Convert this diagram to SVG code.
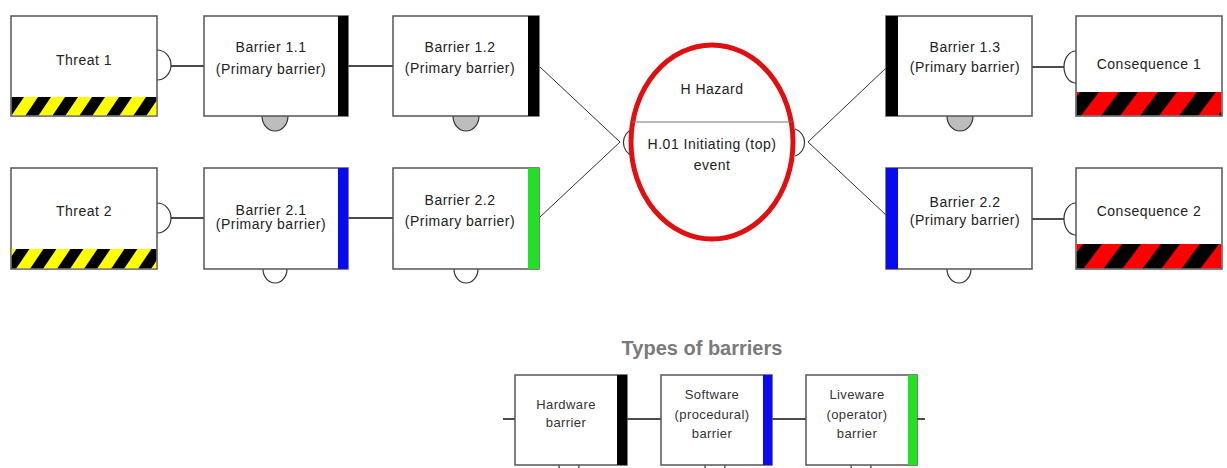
<svg xmlns="http://www.w3.org/2000/svg" width="1227" height="468" viewBox="0 0 1227 468">
<defs>
<style>
.box{fill:#fff;stroke:#555;stroke-width:1.5}
.t{font-family:"Liberation Sans",Arial,sans-serif;font-size:14px;letter-spacing:0.5px;fill:#222;text-anchor:middle}
.ts{font-family:"Liberation Sans",Arial,sans-serif;font-size:13px;letter-spacing:0.4px;fill:#333;text-anchor:middle}
.title{font-family:"Liberation Sans",Arial,sans-serif;font-size:20px;font-weight:bold;fill:#7a7a7a;text-anchor:middle}
.ln{stroke:#111;stroke-width:1.5;fill:none}
.dg{stroke:#333;stroke-width:1;fill:none}
.cap{fill:#fff;stroke:#333;stroke-width:1.2}
.capg{fill:#bdbdbd;stroke:#333;stroke-width:1.2}
</style>
<pattern id="hazY" patternUnits="userSpaceOnUse" x="11" y="97" width="27" height="40">
<rect width="27" height="40" fill="#ffff00"/>
<polygon points="0,0 13,0 -14,40 -27,40" fill="#000"/>
<polygon points="27,0 40,0 13,40 0,40" fill="#000"/>
</pattern>
<pattern id="hazR" patternUnits="userSpaceOnUse" x="1080" y="92" width="39" height="52">
<rect width="39" height="52" fill="#ff0000"/>
<polygon points="0,0 19,0 -20,52 -39,52" fill="#000"/>
<polygon points="39,0 58,0 19,52 0,52" fill="#000"/>
</pattern>
</defs>
<rect width="1227" height="468" fill="#fff"/>

<g id="connectors">
<line class="ln" x1="171" y1="66" x2="204" y2="66"/>
<line class="ln" x1="348" y1="66" x2="393" y2="66"/>
<line class="ln" x1="171" y1="218" x2="204" y2="218"/>
<line class="ln" x1="348" y1="218" x2="393" y2="218"/>
<line class="ln" x1="1032" y1="67" x2="1065" y2="67"/>
<line class="ln" x1="1032" y1="219" x2="1065" y2="219"/>
<line class="dg" x1="540" y1="67" x2="620" y2="142"/>
<line class="dg" x1="540" y1="217" x2="620" y2="142"/>
<line class="dg" x1="808" y1="142" x2="886" y2="68"/>
<line class="dg" x1="808" y1="142" x2="886" y2="215"/>
<line class="ln" x1="503" y1="419" x2="515" y2="419" stroke-width="1"/>
<line class="ln" x1="627" y1="419" x2="661" y2="419" stroke-width="1"/>
<line class="ln" x1="772" y1="419" x2="806" y2="419" stroke-width="1"/>
<line class="ln" x1="917" y1="419" x2="925" y2="419" stroke-width="1"/>
</g>

<g id="threat1">
<path class="cap" d="M157 50 A14 15 0 0 1 157 80"/>
<rect class="box" x="11" y="16" width="146" height="100"/>
<rect x="11.75" y="97" width="144.5" height="18.25" fill="url(#hazY)"/>
<text class="t" x="84" y="65">Threat 1</text>
</g>
<g id="threat2">
<path class="cap" d="M157 203 A14 15 0 0 1 157 233"/>
<rect class="box" x="11" y="168" width="146" height="101"/>
<rect x="11.75" y="249" width="144.5" height="19.25" fill="url(#hazY)"/>
<text class="t" x="84" y="216">Threat 2</text>
</g>

<g id="barrier11">
<path class="capg" d="M262 116 A13 15 0 0 0 288 116"/>
<rect class="box" x="204" y="16" width="144" height="100"/>
<rect x="338" y="16" width="10" height="100" fill="#000"/>
<text class="t" x="271" y="52">Barrier 1.1</text>
<text class="t" x="271" y="74">(Primary barrier)</text>
</g>
<g id="barrier12">
<path class="capg" d="M453 116 A13 15 0 0 0 479 116"/>
<rect class="box" x="393" y="16" width="146" height="100"/>
<rect x="528" y="16" width="11" height="100" fill="#000"/>
<text class="t" x="460" y="52">Barrier 1.2</text>
<text class="t" x="460" y="73">(Primary barrier)</text>
</g>
<g id="barrier21">
<path class="cap" d="M263 269 A12 14 0 0 0 287 269"/>
<rect class="box" x="204" y="168" width="144" height="101"/>
<rect x="338" y="168" width="10" height="101" fill="#0a0af0"/>
<text class="t" x="271" y="215">Barrier 2.1</text>
<text class="t" x="271" y="229">(Primary barrier)</text>
</g>
<g id="barrier22a">
<path class="cap" d="M454 269 A12 14 0 0 0 478 269"/>
<rect class="box" x="393" y="168" width="146" height="101"/>
<rect x="528" y="168" width="11" height="101" fill="#22e022"/>
<text class="t" x="460" y="205">Barrier 2.2</text>
<text class="t" x="460" y="226">(Primary barrier)</text>
</g>

<g id="hazard">
<path class="cap" d="M633 129 A13 14 0 0 0 633 156"/>
<path class="cap" d="M795 129 A13 14 0 0 1 795 156"/>
<ellipse cx="712" cy="142" rx="81" ry="97" fill="#fff" stroke="#e01010" stroke-width="5"/>
<line x1="632" y1="122" x2="792" y2="122" stroke="#777" stroke-width="1.2"/>
<text class="t" x="712" y="94">H  Hazard</text>
<text class="t" x="712" y="149">H.01  Initiating (top)</text>
<text class="t" x="712" y="170">event</text>
</g>

<g id="barrier13">
<path class="capg" d="M947 116 A13 15 0 0 0 973 116"/>
<rect class="box" x="886" y="16" width="146" height="100"/>
<rect x="886" y="16" width="12" height="100" fill="#000"/>
<text class="t" x="965" y="52">Barrier 1.3</text>
<text class="t" x="965" y="72">(Primary barrier)</text>
</g>
<g id="barrier22b">
<path class="cap" d="M947 269 A12 14 0 0 0 971 269"/>
<rect class="box" x="886" y="168" width="146" height="101"/>
<rect x="886" y="168" width="12" height="101" fill="#0a0af0"/>
<text class="t" x="965" y="207">Barrier 2.2</text>
<text class="t" x="965" y="225">(Primary barrier)</text>
</g>

<g id="consequence1">
<path class="cap" d="M1076 51 A12 16 0 0 0 1076 83"/>
<rect class="box" x="1076" y="16" width="146" height="100"/>
<rect x="1076.75" y="92" width="144.5" height="23.25" fill="url(#hazR)"/>
<text class="t" x="1149" y="69">Consequence 1</text>
</g>
<g id="consequence2">
<path class="cap" d="M1076 203 A12 16 0 0 0 1076 235"/>
<rect class="box" x="1076" y="168" width="146" height="101"/>
<rect x="1076.75" y="244" width="144.5" height="24.25" fill="url(#hazR)"/>
<text class="t" x="1149" y="216">Consequence 2</text>
</g>

<g id="legend">
<text class="title" x="702" y="355">Types of barriers</text>
</g>
<g id="hardware">
<path class="cap" d="M559 465 A10 12 0 0 0 579 465"/>
<rect class="box" x="515" y="375" width="112" height="90"/>
<rect x="617" y="375" width="10" height="90" fill="#000"/>
<text class="ts" x="566" y="409">Hardware</text>
<text class="ts" x="566" y="427">barrier</text>
</g>
<g id="software">
<path class="cap" d="M705 465 A10 12 0 0 0 725 465"/>
<rect class="box" x="661" y="375" width="111" height="90"/>
<rect x="763" y="375" width="9" height="90" fill="#0a0af0"/>
<text class="ts" x="712" y="399">Software</text>
<text class="ts" x="712" y="419">(procedural)</text>
<text class="ts" x="712" y="438">barrier</text>
</g>
<g id="liveware">
<path class="cap" d="M851 465 A10 12 0 0 0 871 465"/>
<rect class="box" x="806" y="375" width="111" height="90"/>
<rect x="908" y="375" width="9" height="90" fill="#22e022"/>
<text class="ts" x="857" y="399">Liveware</text>
<text class="ts" x="857" y="419">(operator)</text>
<text class="ts" x="857" y="438">barrier</text>
</g>
</svg>
